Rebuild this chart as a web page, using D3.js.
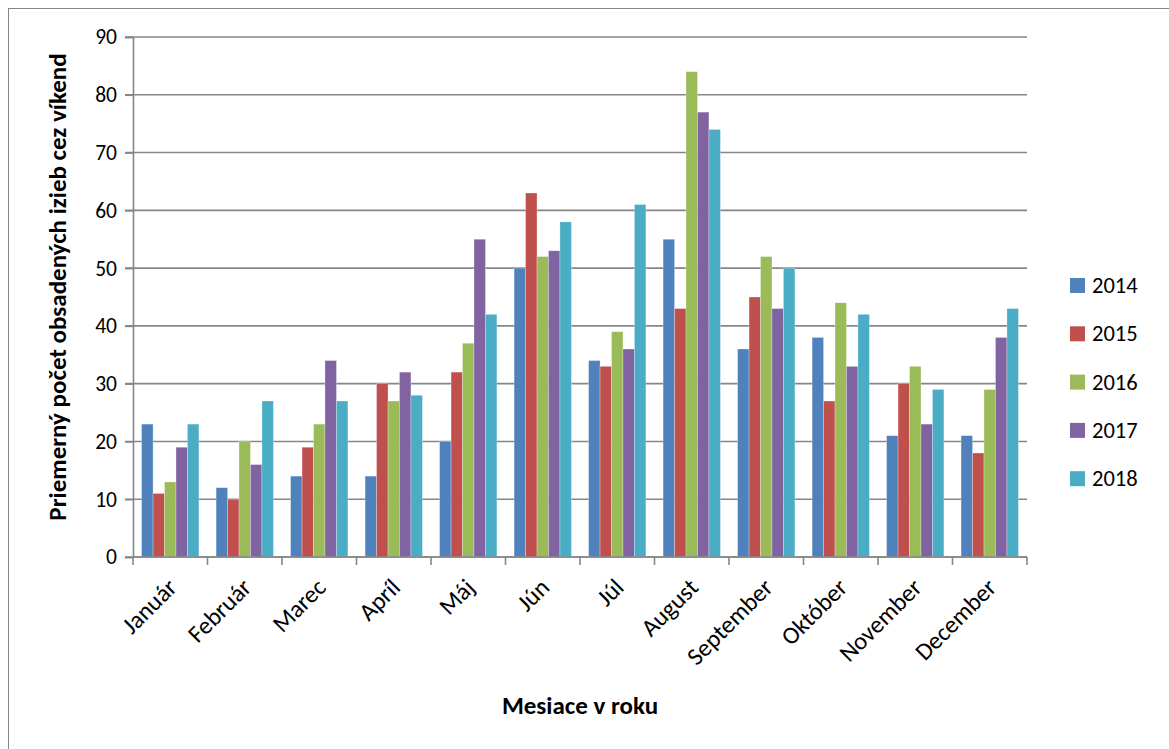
<!DOCTYPE html>
<html>
<head>
<meta charset="utf-8">
<script src="https://cdnjs.cloudflare.com/ajax/libs/d3/7.8.5/d3.min.js"></script>
<style>
  body { margin: 0; background: #fff; }
  svg { display: block; font-family: Carlito, Lato, "Open Sans", sans-serif; }
</style>
</head>
<body>
<div id="chart"></div>
<script>
// months on the x axis
var months = ["Január", "Február", "Marec", "Apríl", "Máj", "Jún", "Júl",
              "August", "September", "Október", "November", "December"];
var years = ["2014", "2015", "2016", "2017", "2018"];
var colors = ["#4F81BD", "#C0504D", "#9BBB59", "#8064A2", "#4BACC6"];

// one array per year
var v2014 = [23, 12, 14, 14, 20, 50, 34, 55, 36, 38, 21, 21];
var v2015 = [11, 10, 19, 30, 32, 63, 33, 43, 45, 27, 30, 18];
var v2016 = [13, 20, 23, 27, 37, 52, 39, 84, 52, 44, 33, 29];
var v2017 = [19, 16, 34, 32, 55, 53, 36, 77, 43, 33, 23, 38];
var v2018 = [23, 27, 27, 28, 42, 58, 61, 74, 50, 42, 29, 43];
var yTicks = [0, 10, 20, 30, 40, 50, 60, 70, 80, 90];

var series = [v2014, v2015, v2016, v2017, v2018];

var W = 1169, H = 749;
var plotL = 133, plotR = 1027, plotT = 37, plotB = 557;
var axisColor = "#868686";
var fontStack = "Carlito, Lato, 'Open Sans', sans-serif";

var svg = d3.select("#chart").append("svg")
  .attr("width", W)
  .attr("height", H);

// outer frame
svg.append("rect")
  .attr("x", 8.5).attr("y", 8.5)
  .attr("width", 1170).attr("height", 750)
  .attr("fill", "none")
  .attr("stroke", axisColor)
  .attr("stroke-width", 1);

var x = d3.scaleBand().domain(months).range([plotL, plotR]).paddingInner(0).paddingOuter(0);
var xInner = d3.scaleBand().domain(years)
  .range([0, x.bandwidth()])
  .paddingInner(0)
  .paddingOuter(0.75);
var y = d3.scaleLinear().domain([0, 90]).range([plotB, plotT]);

// gridlines
svg.append("g")
  .selectAll("line")
  .data(yTicks)
  .enter()
  .append("line")
  .attr("x1", plotL - 8).attr("x2", plotR)
  .attr("y1", function(d){ return y(d); })
  .attr("y2", function(d){ return y(d); })
  .attr("stroke", axisColor)
  .attr("stroke-width", 1.6);

// y axis
var yAxis = svg.append("g")
  .attr("transform", "translate(" + plotL + ",0)")
  .call(d3.axisLeft(y).tickValues(yTicks).tickSize(8).tickPadding(8));
yAxis.select(".domain").attr("stroke", axisColor).attr("stroke-width", 1.6);
yAxis.selectAll(".tick line").attr("stroke", axisColor).attr("stroke-width", 1.6);
yAxis.selectAll("text").attr("font-size", 21.5).attr("fill", "#000")
  .style("font-family", fontStack);

// bars
var groups = svg.append("g")
  .selectAll("g")
  .data(months)
  .enter()
  .append("g")
  .attr("transform", function(d){ return "translate(" + x(d) + ",0)"; });

groups.selectAll("rect")
  .data(function(d, i){ return series.map(function(s, j){ return {year: years[j], value: s[i], k: j}; }); })
  .enter()
  .append("rect")
  .attr("x", function(d){ return xInner(d.year); })
  .attr("y", function(d){ return y(d.value); })
  .attr("width", xInner.bandwidth())
  .attr("height", function(d){ return plotB - y(d.value); })
  .attr("fill", function(d){ return colors[d.k]; })
  .attr("stroke", "rgba(255,255,255,0.45)")
  .attr("stroke-width", 0.6);

// x axis
var xAxis = svg.append("g")
  .attr("transform", "translate(0," + plotB + ")")
  .call(d3.axisBottom(x).tickSize(0).tickPadding(0));
xAxis.select(".domain").remove();
xAxis.append("line")
  .attr("x1", plotL).attr("x2", plotR)
  .attr("stroke", axisColor).attr("stroke-width", 1.6);
xAxis.selectAll(".tickmark")
  .data(d3.range(months.length + 1))
  .enter()
  .append("line")
  .attr("x1", function(i){ return plotL + i * x.step(); })
  .attr("x2", function(i){ return plotL + i * x.step(); })
  .attr("y1", 0).attr("y2", 8)
  .attr("stroke", axisColor).attr("stroke-width", 1.6);
xAxis.selectAll(".tick text")
  .attr("font-size", 24.5)
  .attr("fill", "#000")
  .style("font-family", fontStack)
  .attr("text-anchor", "end")
  .attr("dy", 0)
  .attr("transform", "translate(8,32) rotate(-45)");

// axis titles
svg.append("text")
  .attr("transform", "translate(66,287) rotate(-90)")
  .attr("text-anchor", "middle")
  .attr("font-size", 25)
  .attr("font-weight", "bold")
  .text("Priemerný počet obsadených izieb cez víkend");

svg.append("text")
  .attr("x", 580).attr("y", 714)
  .attr("text-anchor", "middle")
  .attr("font-size", 25)
  .attr("font-weight", "bold")
  .text("Mesiace v roku");

// legend
var legend = svg.append("g")
  .attr("transform", "translate(1070,285)");
legend.selectAll("rect")
  .data(years)
  .enter()
  .append("rect")
  .attr("x", 0)
  .attr("y", function(d, i){ return i * 48.3 - 7; })
  .attr("width", 15).attr("height", 15)
  .attr("fill", function(d, i){ return colors[i]; });
legend.selectAll("text")
  .data(years)
  .enter()
  .append("text")
  .attr("x", 22)
  .attr("y", function(d, i){ return i * 48.3 + 8; })
  .attr("font-size", 22.5)
  .text(function(d){ return d; });
</script>
</body>
</html>
